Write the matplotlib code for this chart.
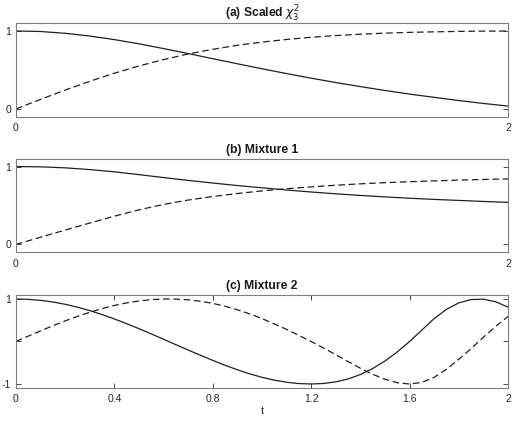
import matplotlib
matplotlib.use("Agg")
import matplotlib.pyplot as plt

plt.rcParams["font.family"] = ["Liberation Sans", "DejaVu Sans"]
plt.rcParams["lines.scale_dashes"] = False

# valores
t_ab = [0.0, 0.1, 0.2, 0.3, 0.4, 0.5, 0.6, 0.7, 0.8, 0.9, 1.0,
        1.1, 1.2, 1.3, 1.4, 1.5, 1.6, 1.7, 1.8, 1.9, 2.0]

a_solid = [1.000, 0.993, 0.970, 0.935, 0.889, 0.835, 0.774, 0.710, 0.644, 0.579, 0.515,
           0.453, 0.394, 0.338, 0.286, 0.236, 0.190, 0.148, 0.107, 0.070, 0.036]
a_dash = [0.000, 0.122, 0.242, 0.354, 0.458, 0.551, 0.633, 0.705, 0.765, 0.816, 0.857,
          0.891, 0.919, 0.941, 0.958, 0.972, 0.982, 0.989, 0.994, 0.998, 0.999]

b_solid = [1.000, 0.996, 0.983, 0.961, 0.932, 0.896, 0.858, 0.822, 0.788, 0.756, 0.727,
           0.699, 0.673, 0.650, 0.629, 0.610, 0.593, 0.578, 0.565, 0.552, 0.540]
b_dash = [0.000, 0.093, 0.185, 0.275, 0.363, 0.444, 0.514, 0.570, 0.615, 0.654, 0.687,
          0.715, 0.739, 0.760, 0.778, 0.793, 0.805, 0.816, 0.826, 0.834, 0.841]

t_c = [0.00, 0.05, 0.10, 0.15, 0.20, 0.25, 0.30, 0.35, 0.40, 0.45, 0.50,
       0.55, 0.60, 0.65, 0.70, 0.75, 0.80, 0.85, 0.90, 0.95, 1.00,
       1.05, 1.10, 1.15, 1.20, 1.25, 1.30, 1.35, 1.40, 1.45, 1.50,
       1.55, 1.60, 1.65, 1.70, 1.75, 1.80, 1.85, 1.90, 1.95, 2.00]
c_solid = [1.000, 0.992, 0.968, 0.929, 0.875, 0.807, 0.726, 0.633, 0.530, 0.418, 0.301,
           0.178, 0.053, -0.075, -0.201, -0.325, -0.445, -0.560, -0.666, -0.761, -0.843,
           -0.910, -0.959, -0.990, -1.000, -0.988, -0.950, -0.881, -0.777, -0.637, -0.459,
           -0.245, 0.000, 0.269, 0.539, 0.757, 0.908, 0.986, 0.995, 0.934, 0.809]
c_dash = [0.000, 0.126, 0.250, 0.370, 0.485, 0.591, 0.688, 0.774, 0.848, 0.908, 0.954,
          0.984, 0.999, 0.997, 0.980, 0.946, 0.896, 0.829, 0.746, 0.649, 0.538,
          0.414, 0.285, 0.143, 0.000, -0.152, -0.311, -0.473, -0.630, -0.771, -0.888,
          -0.970, -1.000, -0.963, -0.842, -0.653, -0.419, -0.166, 0.099, 0.356, 0.588]

titulos = [r"(a) Scaled $\chi_3^2$", "(b) Mixture 1", "(c) Mixture 2"]

paneles = [
    (t_ab, a_solid, a_dash, (-0.1, 1.1), [0, 1], ["0", "1"], [0, 2], ["0", "2"]),
    (t_ab, b_solid, b_dash, (-0.1, 1.1), [0, 1], ["0", "1"], [0, 2], ["0", "2"]),
    (t_c, c_solid, c_dash, (-1.1, 1.1), [-1, 0, 1], ["-1", "", "1"],
     [0, 0.4, 0.8, 1.2, 1.6, 2], ["0", "0.4", "0.8", "1.2", "1.6", "2"]),
]

bottoms = [0.728, 0.412, 0.095]
fig = plt.figure(figsize=(5.19, 4.29), dpi=100)

for i, (t, sol, das, ylim, yt, ytl, xt, xtl) in enumerate(paneles):
    ax = fig.add_axes([0.0308, bottoms[i], 0.948, 0.218])
    ax.plot(t, sol, color="#202020", lw=0.9)
    ax.plot(t, das, color="#202020", lw=0.9, linestyle=(0, (4.8, 2.6)))
    ax.set_xlim(0, 2)
    ax.set_ylim(*ylim)
    ax.set_yticks(yt)
    ax.set_yticklabels(ytl)
    ax.set_xticks(xt)
    ax.set_xticklabels(xtl)
    ax.tick_params(direction="in", length=3.5, width=0.6, top=True, right=True,
                   labelsize=7.5, colors="#262626")
    ax.tick_params(axis="x", pad=4.5)
    ax.tick_params(axis="y", pad=3.5)
    for s in ax.spines.values():
        s.set_color("#7f7f7f")
        s.set_linewidth(0.8)
    ax.set_title(titulos[i], fontsize=8.7, fontweight="bold", pad=4, color="#1a1a1a")
    if i == 2:
        ax.set_xlabel("t", fontsize=8, labelpad=1, color="#262626")

fig.savefig("out.png", dpi=100)
